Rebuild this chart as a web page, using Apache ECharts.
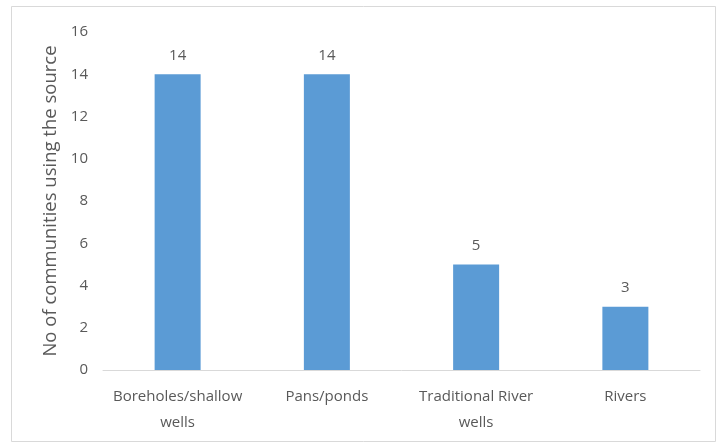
<!DOCTYPE html>
<html>
<head>
<meta charset="utf-8">
<script src="https://cdn.jsdelivr.net/npm/echarts@6/dist/echarts.min.js"></script>
<style>
  html, body { margin: 0; padding: 0; background: #ffffff; }
  #chart { width: 718px; height: 447px; }
</style>
</head>
<body>
<div id="chart"></div>
<script>
// Water sources and how many communities use each
const categories = ['Boreholes/shallow\nwells', 'Pans/ponds', 'Traditional River\nwells', 'Rivers'];
const communityCounts = [14, 14, 5, 3];
const yTicks = [0, 2, 4, 6, 8, 10, 12, 14, 16];

const textColor = '#595959';
const fontFamily = '"Open Sans", "Noto Sans", sans-serif';

const chart = echarts.init(document.getElementById('chart'), null, { renderer: 'canvas' });

chart.setOption({
  animation: false,
  backgroundColor: '#ffffff',
  graphic: [{
    type: 'rect',
    shape: { x: 11.5, y: 6.5, width: 704, height: 435 },
    style: { fill: 'none', stroke: '#d9d9d9', lineWidth: 1 },
    silent: true
  }],
  grid: { left: 103, right: 18, top: 32, bottom: 77, containLabel: false },
  xAxis: {
    type: 'category',
    data: categories,
    axisLine: { show: true, lineStyle: { color: '#d9d9d9', width: 1 } },
    axisTick: { show: false },
    axisLabel: {
      interval: 0,
      hideOverlap: false,
      color: textColor, fontFamily: fontFamily, fontSize: 15,
      lineHeight: 26, margin: 14
    }
  },
  yAxis: {
    type: 'value',
    min: yTicks[0],
    max: yTicks[yTicks.length - 1],
    interval: 2,
    name: 'No of communities using the source',
    nameLocation: 'middle',
    nameGap: 41,
    nameTextStyle: { color: textColor, fontFamily: fontFamily, fontSize: 18.5 },
    axisLine: { show: false },
    axisTick: { show: false },
    splitLine: { show: false },
    axisLabel: { color: textColor, fontFamily: fontFamily, fontSize: 15, margin: 15 }
  },
  series: [{
    type: 'bar',
    data: communityCounts,
    barWidth: 46,
    itemStyle: { color: '#5b9bd5' },
    label: {
      show: true, position: 'top', distance: 11,
      color: textColor, fontFamily: fontFamily, fontSize: 15
    }
  }]
});
</script>
</body>
</html>
